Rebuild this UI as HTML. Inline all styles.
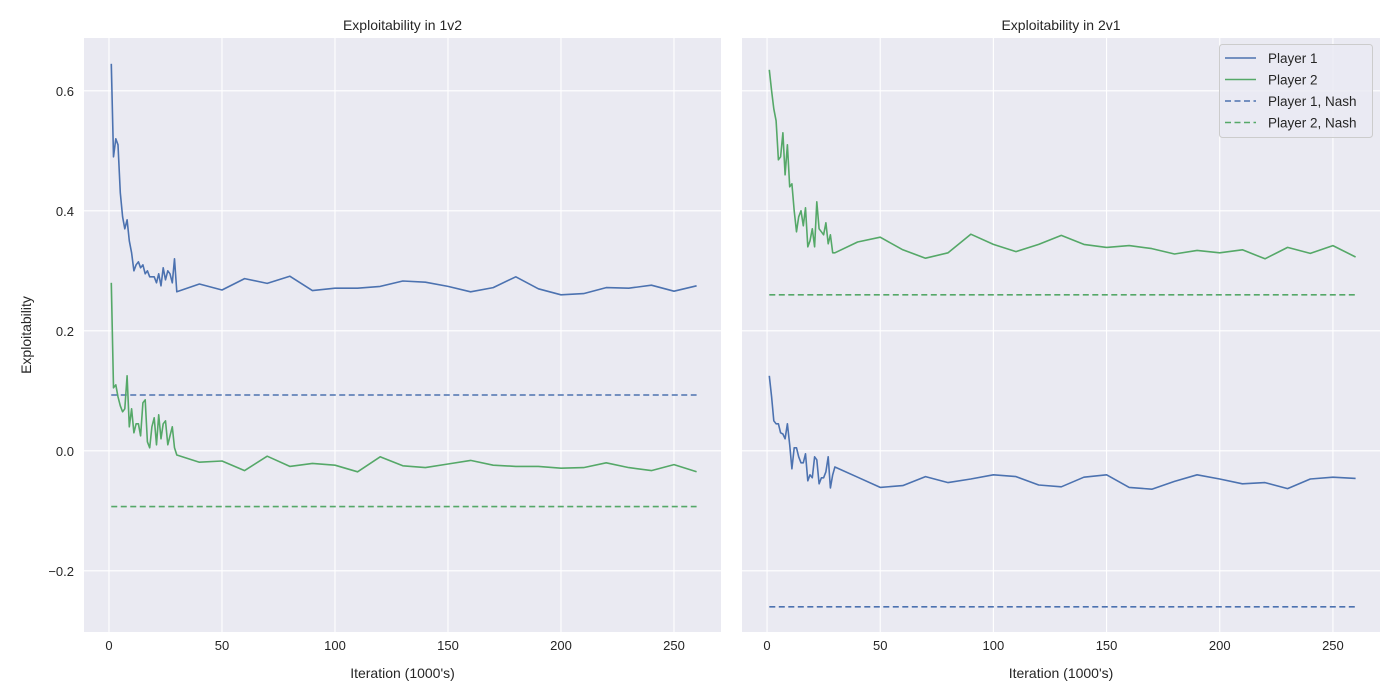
<!DOCTYPE html>
<html><head><meta charset="utf-8"><style>
body{margin:0;background:#fff;}
svg{display:block;font-family:"Liberation Sans","DejaVu Sans",sans-serif;}
</style></head><body>
<svg id="fig" width="1400" height="700"></svg>
<script>
const iters = [1,2,3,4,5,6,7,8,9,10,11,12,13,14,15,16,17,18,19,20,21,22,23,24,25,26,27,28,29,30,40,50,60,70,80,90,100,110,120,130,140,150,160,170,180,190,200,210,220,230,240,250,260];
const l_p1 = [0.645,0.49,0.52,0.51,0.43,0.39,0.37,0.385,0.35,0.33,0.30,0.31,0.315,0.305,0.31,0.295,0.30,0.29,0.29,0.29,0.28,0.295,0.275,0.305,0.285,0.30,0.295,0.28,0.32,0.265,0.278,0.268,0.287,0.279,0.291,0.267,0.271,0.271,0.274,0.283,0.281,0.274,0.265,0.272,0.290,0.270,0.260,0.262,0.272,0.271,0.276,0.266,0.275];
const l_p2 = [0.28,0.105,0.11,0.09,0.075,0.065,0.07,0.125,0.04,0.07,0.03,0.045,0.045,0.025,0.08,0.085,0.015,0.005,0.04,0.055,0.01,0.06,0.02,0.045,0.05,0.01,0.025,0.04,0.005,-0.007,-0.019,-0.017,-0.033,-0.009,-0.026,-0.021,-0.024,-0.035,-0.01,-0.025,-0.028,-0.022,-0.016,-0.024,-0.026,-0.026,-0.029,-0.028,-0.02,-0.028,-0.033,-0.023,-0.035];
const r_p1 = [0.125,0.09,0.05,0.045,0.045,0.03,0.028,0.02,0.045,0.01,-0.03,0.005,0.005,-0.01,-0.02,-0.02,-0.005,-0.05,-0.04,-0.045,-0.01,-0.015,-0.055,-0.045,-0.045,-0.035,-0.01,-0.062,-0.04,-0.027,-0.044,-0.061,-0.058,-0.043,-0.053,-0.047,-0.04,-0.043,-0.057,-0.06,-0.044,-0.04,-0.061,-0.064,-0.051,-0.04,-0.047,-0.055,-0.053,-0.063,-0.047,-0.044,-0.046];
const r_p2 = [0.635,0.60,0.57,0.55,0.485,0.49,0.53,0.46,0.51,0.44,0.445,0.40,0.365,0.39,0.40,0.375,0.405,0.34,0.35,0.37,0.34,0.415,0.37,0.365,0.36,0.38,0.345,0.36,0.33,0.33,0.348,0.356,0.335,0.321,0.33,0.361,0.344,0.332,0.344,0.359,0.344,0.339,0.342,0.337,0.328,0.334,0.33,0.335,0.32,0.339,0.329,0.342,0.323];
const l_nash = [0.093,-0.093];
const r_nash = [-0.26,0.26];
const xTicks = [0,50,100,150,200,250];
const yTicks = [-0.2,0,0.2,0.4,0.6];
const yTickLabels = ["\u22120.2","0.0","0.2","0.4","0.6"];

const NS="http://www.w3.org/2000/svg";
const svg=document.getElementById('fig');
function mk(tag,attrs,parent){const e=document.createElementNS(NS,tag);for(const k in attrs)e.setAttribute(k,attrs[k]);(parent||svg).appendChild(e);return e;}
const BLUE="#4c72b0",GREEN="#55a868";
const PTOP=38,PBOT=632,xmin=-11.06,xmax=270.8,ymin=-0.302,ymax=0.688;

function panel(x0,x1,title,p1,p2,nash,showY,name){
  const g=mk('g',{});
  
  
  const X=v=>x0+(v-xmin)/(xmax-xmin)*(x1-x0);
  const Y=v=>PBOT-(v-ymin)/(ymax-ymin)*(PBOT-PTOP);
  const bg=mk('rect',{x:x0,y:PTOP,width:x1-x0,height:PBOT-PTOP,fill:"#eaeaf2"},g);
  
  
  xTicks.forEach(t=>{
    mk('line',{x1:X(t),x2:X(t),y1:PTOP,y2:PBOT,stroke:"#fff","stroke-width":1.1},g);
    const tl=mk('text',{x:X(t),y:PBOT+18,"text-anchor":"middle","font-size":13,fill:"#262626"},g);
    tl.textContent=t;
    
    
  });
  yTicks.forEach((t,i)=>{
    mk('line',{x1:x0,x2:x1,y1:Y(t),y2:Y(t),stroke:"#fff","stroke-width":1.1},g);
    if(showY){
      const tl=mk('text',{x:x0-10,y:Y(t)+5,"text-anchor":"end","font-size":13,fill:"#262626"},g);
      tl.textContent=yTickLabels[i];
      
      
    }
  });
  const nx0=X(iters[0]),nx1=X(iters[iters.length-1]);
  const n1=mk('line',{x1:nx0,x2:nx1,y1:Y(nash[0]),y2:Y(nash[0]),stroke:BLUE,"stroke-width":1.6,"stroke-dasharray":"6,3.5"},g);
  
  
  const n2=mk('line',{x1:nx0,x2:nx1,y1:Y(nash[1]),y2:Y(nash[1]),stroke:GREEN,"stroke-width":1.6,"stroke-dasharray":"6,3.5"},g);
  
  
  const series=[[p1,BLUE,'player1-line'],[p2,GREEN,'player2-line']];
  series.forEach(([d,c,n])=>{
    const pts=iters.map((x,i)=>X(x).toFixed(1)+","+Y(d[i]).toFixed(1)).join(" ");
    const pl=mk('polyline',{points:pts,fill:"none",stroke:c,"stroke-width":1.6,"stroke-linejoin":"round"},g);
    
    
  });
  const tt=mk('text',{x:(x0+x1)/2,y:30,"text-anchor":"middle","font-size":14,fill:"#262626"},g);
  tt.textContent=title;
  
  
  const xl=mk('text',{x:(x0+x1)/2,y:678,"text-anchor":"middle","font-size":14,fill:"#262626"},g);
  xl.textContent="Iteration (1000's)";
  
  
}
panel(84,721,"Exploitability in 1v2",l_p1,l_p2,l_nash,true,'left-panel');
panel(742,1380,"Exploitability in 2v1",r_p1,r_p2,r_nash,false,'right-panel');

const yl=mk('text',{x:31,y:335,"text-anchor":"middle","font-size":14,fill:"#262626",transform:"rotate(-90 31 335)"});
yl.textContent="Exploitability";



const lg=mk('g',{});


mk('rect',{x:1219.5,y:44.5,width:153,height:93,rx:3,fill:"#eaeaf2","fill-opacity":0.8,stroke:"#cccccc"},lg);
const entries=[["Player 1",BLUE,false],["Player 2",GREEN,false],["Player 1, Nash",BLUE,true],["Player 2, Nash",GREEN,true]];
entries.forEach(([t,c,d],i)=>{
  const y=58+i*21.5;
  const e=mk('g',{},lg);
  
  
  const a={x1:1225,x2:1256,y1:y,y2:y,stroke:c,"stroke-width":1.6};
  if(d)a["stroke-dasharray"]="6,3.5";
  mk('line',a,e);
  const tx=mk('text',{x:1268,y:y+5,"font-size":13.5,fill:"#262626"},e);
  tx.textContent=t;
});
</script>
</body></html>
